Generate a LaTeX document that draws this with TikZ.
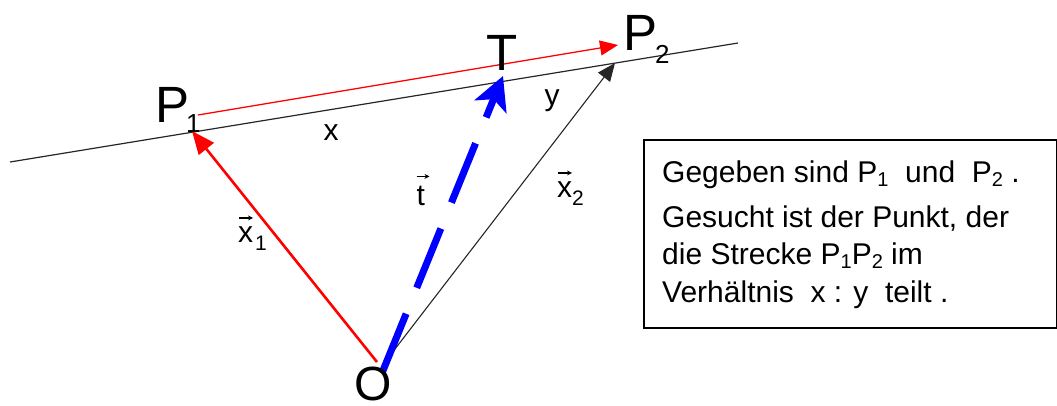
\documentclass[tikz,border=0pt]{standalone}
\usepackage{fontspec}
\setmainfont{Liberation Sans}
\usetikzlibrary{arrows.meta}
\newcommand\bsub[1]{\raisebox{-4pt}{\fontsize{20}{20}\selectfont #1}}
\newcommand\vsub[1]{\raisebox{-8pt}{\fontsize{21}{21}\selectfont #1}}
\begin{document}
\begin{tikzpicture}[x=1pt,y=-1pt,
  big/.style={inner sep=0pt, font=\fontsize{51}{51}\selectfont},
  lab/.style={inner sep=0pt, font=\fontsize{30}{30}\selectfont},
  boxtext/.style={inner sep=0pt, anchor=base west, font=\fontsize{30}{30}\selectfont},
  vecarrow/.style={line width=1.1pt, -{Stealth[length=5pt,width=5pt]}},
  thinline/.style={line width=1.2pt, black!85},
  redline/.style={line width=1.3pt, red, -{Triangle[length=18pt,width=15pt]}},
  redarrow/.style={line width=2.6pt, red, -{Triangle[length=23pt,width=19pt]}},
  blackarrow/.style={line width=1.1pt, black!85, -{Triangle[length=18pt,width=15pt]}},
  bluearrow/.style={line width=7pt, blue, dash pattern=on 64pt off 28pt, -{Stealth[length=33pt,width=34pt,inset=8pt]}}]
\useasboundingbox (0,0) rectangle (1057,405);
% points
\coordinate (L1) at (10,162);
\coordinate (L2) at (738,43);
\coordinate (R1) at (198,115);
\coordinate (R2) at (618,45);
\coordinate (Or) at (377,362);
\coordinate (Ok) at (385,362);
\coordinate (Ob) at (382,373);
\coordinate (P1) at (192,131);
\coordinate (P2) at (615,63);
\coordinate (T) at (503,76);
% line and vectors
\draw[thinline] (L1) -- (L2);
\draw[redline] (R1) -- (R2);
\draw[redarrow] (Or) -- (P1);
\draw[blackarrow] (Ok) -- (P2);
\draw[bluearrow] (Ob) -- (T);
% big labels
\node[big, anchor=base west] (lp1) at (155,122) {P\hspace{-3pt}\raisebox{-10pt}{\fontsize{26}{26}\selectfont 1}};
\node[big, anchor=base west] (lp2) at (623,50) {P\hspace{-2pt}\raisebox{-13pt}{\fontsize{26}{26}\selectfont 2}};
\node[big, anchor=base] (lT) at (502,70) {T};
\node[inner sep=0pt, font=\fontsize{48}{48}\selectfont] (lO) at (373.5,384) {O};
% small labels
\node[lab, anchor=base] (lx) at (331,140) {x};
\node[lab, anchor=base] (ly) at (552,105) {y};
\node[lab, anchor=base west] (lt) at (416.5,205) {t};
\node[lab, anchor=base west] (lx1) at (238,242) {x\hspace{2pt}\vsub{1}};
\node[lab, anchor=base west] (lx2) at (557,197) {x\vsub{2}};
\draw[vecarrow] ([shift={(0,-9)}]lt.north west) -- ([shift={(13,-9)}]lt.north west);
\draw[vecarrow] ([shift={(1,-8)}]lx1.north west) -- ([shift={(15,-8)}]lx1.north west);
\draw[vecarrow] ([shift={(1,-8)}]lx2.north west) -- ([shift={(15,-8)}]lx2.north west);
% text box
\node[draw, line width=1.5pt, minimum width=413pt, minimum height=188pt, anchor=north west, inner sep=0pt] (box) at (643,139) {};
\node[boxtext] (b1) at (662,182) {Gegeben sind P\bsub{1}\ \ und\ \ P\bsub{2} .};
\node[boxtext] (b2) at (662,227) {Gesucht ist der Punkt, der};
\node[boxtext] (b3) at (662,264) {die Strecke P\bsub{1}P\bsub{2} im};
\node[boxtext] (b4) at (662,302) {Verhältnis\ \ x : y\ \ teilt .};
\end{tikzpicture}
\end{document}
